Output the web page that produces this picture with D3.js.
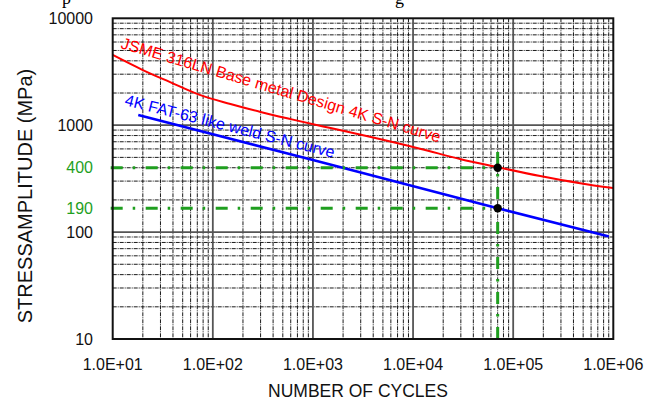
<!DOCTYPE html>
<html>
<head>
<meta charset="utf-8">
<script src="https://cdn.jsdelivr.net/npm/d3@7"></script>
<style>
  body { margin: 0; background: #fff; }
  svg { display: block; font-family: "Liberation Sans", Arial, sans-serif; }
</style>
</head>
<body>
<div id="chart-div"></div>
<script>
// ---------------- data ----------------
const cycleTicks = [1e1, 1e2, 1e3, 1e4, 1e5, 1e6]
const cycleTickLabels = ["1.0E+01", "1.0E+02", "1.0E+03", "1.0E+04", "1.0E+05", "1.0E+06"]
const stressTicks = [10, 100, 1000, 10000]
const stressTickLabels = ["10", "100", "1000", "10000"]

// JSME 316LN base metal design curve (red)
const jsmeCycles = [10, 20, 37, 74, 150, 300, 600, 1500, 3700, 12000, 30000, 70000, 186000, 467000, 1000000]
const jsmeStress = [4540, 3280, 2540, 1920, 1580, 1330, 1140, 940, 780, 600, 480, 405, 335, 287, 258]

// 4K FAT-63 like weld curve (blue)
const weldCycles = [18, 1000, 70000, 900000]
const weldStress = [1245, 472, 167, 91]

// green dash-dot markers
const markCycle = 70000
const markStress = [400, 167]
const markLabels = ["400", "190"]
const markTop = 560
const markBottom = 8.4

// ---------------- constants ----------------
const WIDTH = 645
const HEIGHT = 401
const MARGIN_LEFT = 112.7
const MARGIN_RIGHT = 31.7
const MARGIN_TOP = 18.3
const MARGIN_BOTTOM = 62
const GREEN = "#1f9f1f"

const svg = d3.select("#chart-div").append("svg")
  .attr("width", WIDTH)
  .attr("height", HEIGHT)

const x = d3.scaleLog().domain([10, 1e6]).range([MARGIN_LEFT, WIDTH - MARGIN_RIGHT])
const y = d3.scaleLog().domain([10, 10000]).range([HEIGHT - MARGIN_BOTTOM, MARGIN_TOP])

const isMajor = v => Math.abs(Math.log10(v) - Math.round(Math.log10(v))) < 1e-9

// grid
const grid = svg.append("g")
const xGrid = x.ticks().filter(v => v > 10 && v < 1e6)
const yGrid = y.ticks().filter(v => v > 10 && v < 10000)

grid.selectAll(".vminor").data(xGrid.filter(v => !isMajor(v))).enter().append("line")
  .attr("x1", d => x(d)).attr("x2", d => x(d))
  .attr("y1", y(10000)).attr("y2", y(10))
  .attr("stroke", "#1a1a1a").attr("stroke-width", 1).attr("stroke-dasharray", "4,1,1,1")
grid.selectAll(".hminor").data(yGrid.filter(v => !isMajor(v))).enter().append("line")
  .attr("x1", x(10)).attr("x2", x(1e6))
  .attr("y1", d => y(d)).attr("y2", d => y(d))
  .attr("stroke", "#1a1a1a").attr("stroke-width", 1).attr("stroke-dasharray", "4,1,1,1")
grid.selectAll(".vmajor").data(xGrid.filter(isMajor)).enter().append("line")
  .attr("x1", d => x(d)).attr("x2", d => x(d))
  .attr("y1", y(10000)).attr("y2", y(10))
  .attr("stroke", "#555").attr("stroke-width", 1.8)
grid.selectAll(".hmajor").data(yGrid.filter(isMajor)).enter().append("line")
  .attr("x1", x(10)).attr("x2", x(1e6))
  .attr("y1", d => y(d)).attr("y2", d => y(d))
  .attr("stroke", "#555").attr("stroke-width", 1.8)

// curves
const line = d3.line().x(d => x(d[0])).y(d => y(d[1])).curve(d3.curveMonotoneX)

svg.append("path")
  .datum(jsmeCycles.map((c, i) => [c, jsmeStress[i]]))
  .attr("d", line)
  .attr("fill", "none").attr("stroke", "#ff0000").attr("stroke-width", 2)

svg.append("path")
  .datum(weldCycles.map((c, i) => [c, weldStress[i]]))
  .attr("d", line)
  .attr("fill", "none").attr("stroke", "#0000ff").attr("stroke-width", 2.6)

// green dash-dot guide lines
svg.selectAll(".hmark").data(markStress).enter().append("line")
  .attr("x1", x(10) - 2).attr("x2", x(markCycle))
  .attr("y1", d => y(d)).attr("y2", d => y(d))
  .attr("stroke", GREEN).attr("stroke-width", 3).attr("stroke-dasharray", "12,10,2.5,10.5")
svg.append("line")
  .attr("x1", x(markCycle)).attr("x2", x(markCycle))
  .attr("y1", y(markTop)).attr("y2", y(markBottom))
  .attr("stroke", GREEN).attr("stroke-width", 3).attr("stroke-dasharray", "12,10,2.5,10.5")

svg.selectAll(".dot").data(markStress).enter().append("circle")
  .attr("cx", x(markCycle)).attr("cy", d => y(d)).attr("r", 4.2)
  .attr("fill", "#000")

// border
svg.append("rect")
  .attr("x", x(10)).attr("y", y(10000))
  .attr("width", x(1e6) - x(10)).attr("height", y(10) - y(10000))
  .attr("fill", "none").attr("stroke", "#111").attr("stroke-width", 2)

// tick labels
svg.selectAll(".xlab").data(cycleTicks).enter().append("text")
  .attr("x", d => x(d)).attr("y", 370)
  .attr("text-anchor", "middle").attr("font-size", 16).attr("fill", "#111")
  .text((d, i) => cycleTickLabels[i])
svg.selectAll(".ylab").data(stressTicks).enter().append("text")
  .attr("x", 93).attr("y", d => y(d)).attr("dy", "0.36em")
  .attr("text-anchor", "end").attr("font-size", 16).attr("fill", "#111")
  .text((d, i) => stressTickLabels[i])
svg.selectAll(".glab").data(markStress).enter().append("text")
  .attr("x", 93).attr("y", d => y(d)).attr("dy", "0.36em")
  .attr("text-anchor", "end").attr("font-size", 16).attr("fill", GREEN)
  .text((d, i) => markLabels[i])

// axis titles
svg.append("text")
  .attr("x", 358).attr("y", 397)
  .attr("text-anchor", "middle").attr("font-size", 17.5).attr("fill", "#111")
  .text("NUMBER OF CYCLES")
svg.append("text")
  .attr("transform", "translate(32,196) rotate(-90)")
  .attr("text-anchor", "middle").attr("font-size", 20).attr("fill", "#111")
  .text("STRESSAMPLITUDE (MPa)")

// curve labels
svg.append("text")
  .attr("transform", "translate(120,48) rotate(16.5)")
  .attr("font-size", 16).attr("fill", "#ff0000")
  .text("JSME 316LN Base metal Design 4K S-N curve")
svg.append("text")
  .attr("transform", "translate(124,105) rotate(14.2)")
  .attr("font-size", 16).attr("fill", "#0000ff")
  .text("4K FAT-63 like weld S-N curve")

// cut-off descenders of the text line above the figure
svg.append("text").attr("x", 62).attr("y", 4)
  .attr("font-family", "Liberation Serif").attr("font-size", 18).text("p")
svg.append("text").attr("x", 395).attr("y", 4)
  .attr("font-family", "Liberation Serif").attr("font-size", 18).text("g")
</script>
</body>
</html>
